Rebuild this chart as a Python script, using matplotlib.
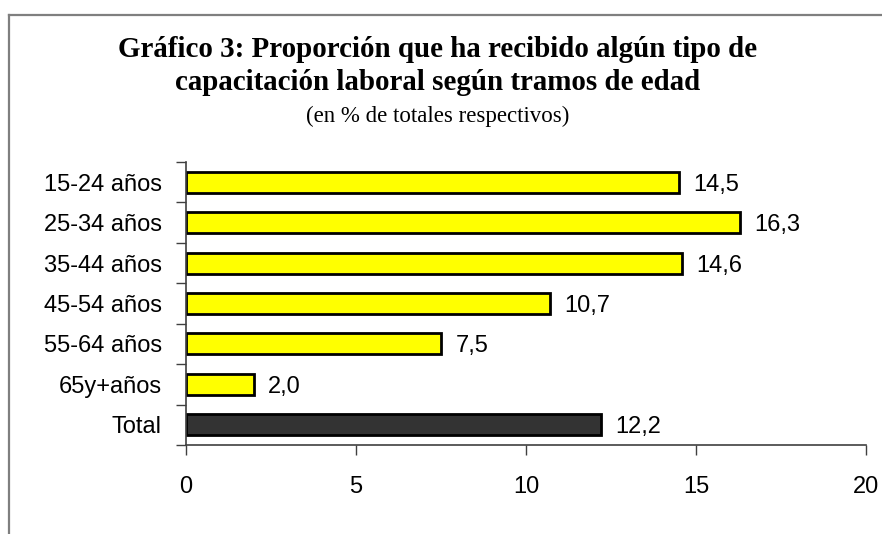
import matplotlib
matplotlib.use("Agg")
import matplotlib.pyplot as plt
from matplotlib.lines import Line2D

categories = ["15-24 años", "25-34 años", "35-44 años", "45-54 años",
              "55-64 años", "65y+años", "Total"]
values = [14.5, 16.3, 14.6, 10.7, 7.5, 2.0, 12.2]
value_labels = ["14,5", "16,3", "14,6", "10,7", "7,5", "2,0", "12,2"]
colors = ["#FFFF00"] * 6 + ["#333333"]
xticks = [0, 5, 10, 15, 20]

W, H = 882, 534
fig = plt.figure(figsize=(W / 100, H / 100), dpi=100)
fig.patch.set_facecolor("white")

sans = ["Liberation Sans", "DejaVu Sans"]
serif = ["Liberation Serif", "DejaVu Serif"]

# outer frame (top & left visible)
fig.add_artist(Line2D([9 / W, 1.0], [1 - 15 / H, 1 - 15 / H], transform=fig.transFigure,
                      color="#7f7f7f", lw=1.6))
fig.add_artist(Line2D([9 / W, 9 / W], [1 - 15 / H, 0.0], transform=fig.transFigure,
                      color="#7f7f7f", lw=1.6))

cx = 437.5 / W
fig.text(cx, 1 - 57 / H, "Gráfico 3: Proporción que ha recibido algún tipo de",
         ha="center", va="baseline", fontsize=20.9, fontweight="bold", family=serif)
fig.text(cx, 1 - 89.5 / H, "capacitación laboral según tramos de edad",
         ha="center", va="baseline", fontsize=20.9, fontweight="bold", family=serif)
fig.text(cx, 1 - 122 / H, "(en % de totales respectivos)",
         ha="center", va="baseline", fontsize=16.5, family=serif)

ax = fig.add_axes([186 / W, 1 - 445 / H, 680 / W, 283 / H])
ypos = list(range(len(categories)))
ax.barh(ypos, values, height=0.52, color=colors, edgecolor="black", linewidth=2.0)
ax.set_xlim(0, 20)
ax.set_ylim(len(categories) - 0.5, -0.5)

for y, v, lab in zip(ypos, values, value_labels):
    ax.text(v + 0.42, y, lab, ha="left", va="center_baseline", fontsize=17, family=sans)

for s in ["top", "right"]:
    ax.spines[s].set_visible(False)
for s in ["left", "bottom"]:
    ax.spines[s].set_color("#404040")
    ax.spines[s].set_linewidth(1.2)

ax.set_xticks(xticks)
ax.set_xticklabels([str(t) for t in xticks], fontsize=17, family=sans)
ax.tick_params(axis="x", direction="out", length=7, width=1.0, color="#404040", pad=15)

ax.set_yticks([i - 0.5 for i in range(len(categories) + 1)])
ax.set_yticklabels([])
ax.set_yticks(ypos, minor=True)
ax.set_yticklabels(categories, minor=True, fontsize=17, family=sans)
ax.tick_params(axis="y", which="major", direction="out", length=7, width=1.0, color="#404040")
ax.tick_params(axis="y", which="minor", length=0, pad=17.5)

fig.savefig("out.png", dpi=100, facecolor="white")
